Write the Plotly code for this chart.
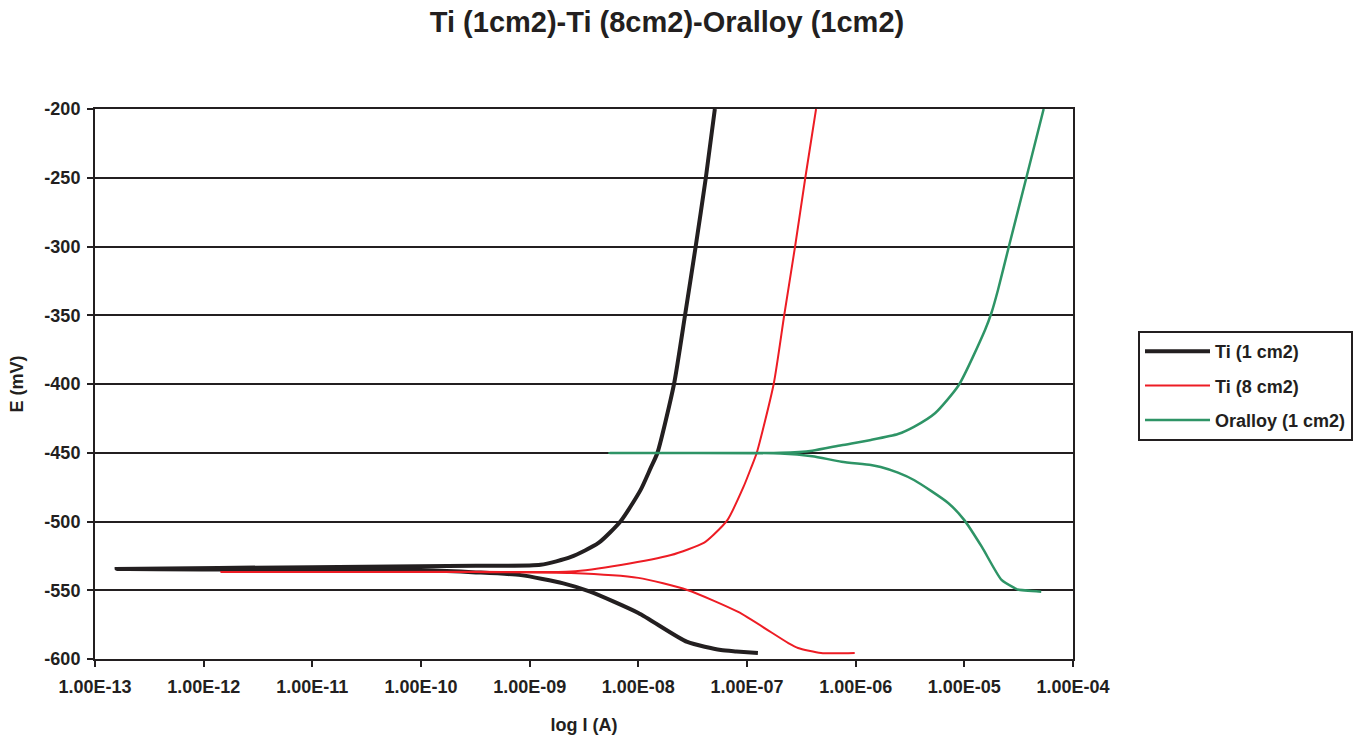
import plotly.graph_objects as go

# ---- data (current in A, potential in mV) ----
# Ti (1 cm2): cathodic branch (from far end toward Ecorr), then anodic branch
ti1_cath_I = [1.26e-7, 8.0e-8, 5.75e-8, 2.82e-8, 1.0e-8, 3.6e-9, 2.04e-9, 8.3e-10, 3.2e-10, 1.0e-10, 1.0e-11, 1.58e-13]
ti1_cath_E = [-595.6, -594.5, -593.5, -587.6, -566.5, -551, -545, -539, -537, -535.5, -535, -534.5]
ti1_an_I = [1.58e-13, 1.0e-11, 3.2e-10, 1.26e-9, 2.4e-9, 4.3e-9, 6.9e-9, 1.05e-8, 1.3e-8, 1.5e-8, 2.13e-8, 2.69e-8, 3.37e-8, 4.18e-8, 5.06e-8]
ti1_an_E = [-534.5, -533.2, -532.2, -531.5, -525.8, -515.6, -499.6, -477, -461, -450, -400, -350, -300, -250, -200]

# Ti (8 cm2)
ti8_cath_I = [9.8e-7, 4.8e-7, 2.95e-7, 2.4e-7, 8.3e-8, 2.82e-8, 1.0e-8, 2.4e-9, 3.2e-10, 1.45e-12]
ti8_cath_E = [-595.6, -595.6, -592, -588.4, -565.8, -549.8, -541, -537.5, -536.8, -536.7]
ti8_an_I = [1.45e-12, 3.2e-10, 2.4e-9, 6.9e-9, 2.0e-8, 4.0e-8, 4.9e-8, 6.6e-8, 9.3e-8, 1.09e-7, 1.23e-7, 1.76e-7, 2.2e-7, 2.77e-7, 3.44e-7, 4.32e-7]
ti8_an_E = [-536.7, -536.6, -536.4, -531.6, -524.4, -515.6, -509.8, -499, -474.7, -461, -450, -400, -350, -300, -250, -200]

# Oralloy (1 cm2)
oral_cath_I = [5.1e-5, 3.1e-5, 2.9e-5, 2.2e-5, 1.45e-5, 1.0e-5, 7.1e-6, 3.47e-6, 2.45e-6, 1.7e-6, 1.38e-6, 7.4e-7, 3.98e-7, 2.04e-7, 5.4e-9]
oral_cath_E = [-551, -549.5, -548.4, -542.5, -518.5, -499, -486.5, -470, -464.5, -460.4, -458.9, -456.5, -452.5, -450.5, -450.2]
oral_an_I = [5.4e-9, 2.04e-7, 3.98e-7, 7.4e-7, 1.38e-6, 2.45e-6, 3.47e-6, 5.37e-6, 8.9e-6, 1.55e-5, 1.78e-5, 2.04e-5, 2.57e-5, 3.72e-5, 5.37e-5]
oral_an_E = [-450.2, -450, -448.5, -444.5, -440.7, -436.4, -431, -421.3, -400.7, -360.7, -348, -331.6, -300, -250, -200]

series_names = ["Ti (1 cm2)", "Ti (8 cm2)", "Oralloy (1 cm2)"]
x_tick_vals = [1e-13, 1e-12, 1e-11, 1e-10, 1e-9, 1e-8, 1e-7, 1e-6, 1e-5, 1e-4]
x_tick_text = ["1.00E-13", "1.00E-12", "1.00E-11", "1.00E-10", "1.00E-09",
               "1.00E-08", "1.00E-07", "1.00E-06", "1.00E-05", "1.00E-04"]
y_tick_vals = [-200, -250, -300, -350, -400, -450, -500, -550, -600]
y_tick_text = ["-200", "-250", "-300", "-350", "-400", "-450", "-500", "-550", "-600"]

FONT = "Liberation Sans, Arial, sans-serif"
INK = "#231f20"

fig = go.Figure()
specs = [
    (ti1_cath_I, ti1_cath_E, ti1_an_I, ti1_an_E, INK, 4),
    (ti8_cath_I, ti8_cath_E, ti8_an_I, ti8_an_E, "#ed1c24", 2),
    (oral_cath_I, oral_cath_E, oral_an_I, oral_an_E, "#2e9466", 2.5),
]
for i, (ci, ce, ai, ae, col, w) in enumerate(specs):
    fig.add_trace(go.Scatter(
        x=ci + ai[1:], y=ce + ae[1:],
        mode="lines", name=series_names[i],
        line=dict(color=col, width=w, shape="spline", smoothing=0.6),
        legendgroup=f"g{i}",
    ))

fig.update_layout(
    width=1359, height=740,
    margin=dict(l=95, r=286, t=109, b=81, autoexpand=False),
    paper_bgcolor="white", plot_bgcolor="white",
    font=dict(family=FONT, size=18, color=INK),
    title=dict(text="<b>Ti (1cm2)-Ti (8cm2)-Oralloy (1cm2)</b>",
               x=667/1359, xanchor="center", y=1-22/740, yanchor="middle",
               font=dict(size=29, family=FONT, color=INK)),
    showlegend=True,
    legend=dict(
        x=(1138-95)/978, xanchor="left",
        y=(659-331)/550, yanchor="top",
        bordercolor=INK, borderwidth=2, bgcolor="white",
        font=dict(size=18, family=FONT, color=INK, weight="bold"),
        tracegroupgap=8, itemwidth=65,
    ),
    xaxis=dict(
        type="log", range=[-13, -4],
        tickvals=x_tick_vals, ticktext=x_tick_text,
        tickfont=dict(size=18, family=FONT, weight="bold"),
        showgrid=False, zeroline=False,
        showline=True, linecolor=INK, linewidth=2, mirror=True,
        ticks="outside", ticklen=6, tickwidth=2, tickcolor=INK,
        ticklabelstandoff=4,
        title=dict(text="<b>log I (A)</b>", font=dict(size=18, family=FONT), standoff=23),
    ),
    yaxis=dict(
        range=[-600, -200], tickvals=y_tick_vals, ticktext=y_tick_text,
        tickfont=dict(size=18, family=FONT, weight="bold"),
        showgrid=True, gridcolor=INK, gridwidth=2, zeroline=False,
        showline=True, linecolor=INK, linewidth=2, mirror=True,
        ticks="outside", ticklen=6, tickwidth=2, tickcolor=INK,
        ticklabelstandoff=3,
        title=dict(text="<b>E (mV)</b>", font=dict(size=18, family=FONT), standoff=16),
    ),
)

fig.write_html("out.html")
